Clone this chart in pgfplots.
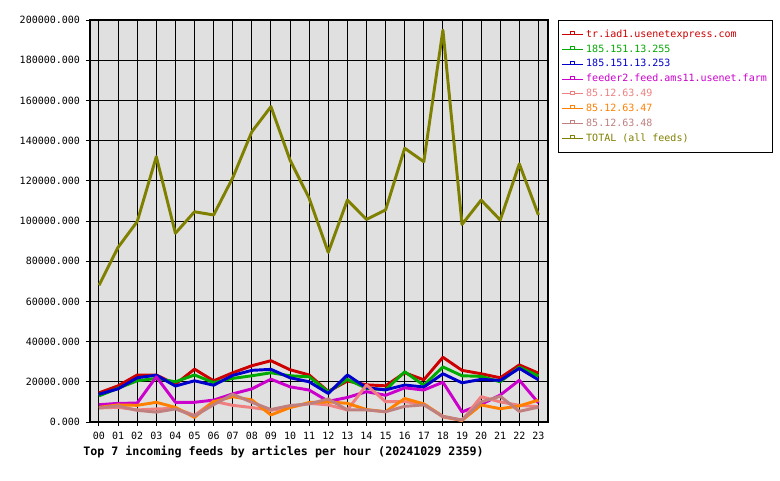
\documentclass[border=0pt]{standalone}
\usepackage{fontspec}
\setmainfont{DejaVu Sans Mono}
\usepackage{pgfplots}
\usepackage{pgfplotstable}
\pgfplotsset{compat=1.18}
\definecolor{cred}{RGB}{204,0,0}
\definecolor{cgreen}{RGB}{0,170,0}
\definecolor{cblue}{RGB}{0,0,204}
\definecolor{cmag}{RGB}{204,0,204}
\definecolor{csal}{RGB}{240,128,128}
\definecolor{cora}{RGB}{255,128,0}
\definecolor{cros}{RGB}{192,128,128}
\definecolor{coli}{RGB}{128,128,0}
\definecolor{bgc}{RGB}{224,224,224}
\pgfplotstableread{
h tot red green blue mag sal ora ros
0 68000 14500 13000 13800 8600 7000 7300 7000
1 86900 18000 16800 16500 9300 7300 8500 8000
2 99700 23400 20500 22000 9400 6000 8300 5800
3 132000 23400 21700 23300 22500 6500 9800 4900
4 93900 18800 20000 17900 9800 6800 7300 6500
5 104600 26300 23400 20500 9800 3300 2300 3000
6 103000 20500 19600 18300 10900 10300 10100 8600
7 121500 24500 21700 23200 14000 8300 12600 13800
8 144400 28000 23000 25700 16500 7200 11000 9800
9 156900 30500 24500 26200 21300 5800 3500 6200
10 130300 26000 23000 22000 17500 7300 7200 8200
11 111300 23400 22500 20000 15900 9300 9700 9000
12 84400 15200 15000 14200 10300 8500 10000 11500
13 110400 20400 21200 23400 12200 6000 9300 6000
14 100800 18500 16800 17000 15100 18400 6200 6000
15 105500 18000 16000 16000 13300 10100 5100 5100
16 136200 24500 25000 18400 17000 10100 11700 7800
17 129500 21000 18300 17400 15900 9000 9000 8500
18 195000 32200 27400 24000 19800 2500 2800 2800
19 98300 25700 23000 19500 5000 800 800 1000
20 110400 24000 22700 21200 8800 12600 8500 10000
21 100500 22000 20000 20700 13400 10000 6600 12800
22 128400 28400 27300 26700 20800 8300 8000 5300
23 103000 24300 22900 21000 9500 7600 10900 7400
}\datatable
\begin{document}
\begin{tikzpicture}[x=0.75pt,y=0.75pt]
\begin{axis}[
  scale only axis, width=343.5pt, height=301.5pt,
  at={(0,0)}, anchor=south west,
  xmin=-0.47, xmax=23.5, ymin=0, ymax=200000,
  axis background/.style={fill=bgc},
  grid=major, grid style={black, line width=0.75pt},
  axis line style={black, line width=0.9pt},
  xtick={0,...,23},
  xticklabels={00,01,02,03,04,05,06,07,08,09,10,11,12,13,14,15,16,17,18,19,20,21,22,23},
  ytick={0,20000,40000,60000,80000,100000,120000,140000,160000,180000,200000},
  yticklabels={0.000,20000.000,40000.000,60000.000,80000.000,100000.000,120000.000,140000.000,160000.000,180000.000,200000.000},
  scaled y ticks=false,
  tick align=outside, xtick pos=left, ytick pos=left,
  major tick length=3pt, tick style={black, line width=0.75pt},
  tick label style={font=\fontsize{7.5}{9}\selectfont},
  xticklabel style={yshift=-1pt},
  yticklabel style={xshift=-1pt},
  /pgf/number format/assume math mode=true,
  legend style={at={(1,1)}, anchor=north west, xshift=7.5pt,
    draw=black, line width=0.8pt, inner xsep=2pt, inner ysep=5pt,
    font=\fontsize{7.5}{9}\selectfont, row sep=0pt,
    legend cell align=left},
  legend image code/.code={
    \draw[#1, line width=0.75pt] (0pt,0pt) -- (16pt,0pt);
    \draw[#1, line width=0.6pt, fill=white] (6.8pt,0pt) rectangle (9.2pt,2.2pt);
  },
  every axis plot/.append style={line width=2.2pt, line join=round, no markers},
]
\addplot[cred] table[x=h, y=red] {\datatable};
\addplot[cgreen] table[x=h, y=green] {\datatable};
\addplot[cblue] table[x=h, y=blue] {\datatable};
\addplot[cmag] table[x=h, y=mag] {\datatable};
\addplot[csal] table[x=h, y=sal] {\datatable};
\addplot[cora] table[x=h, y=ora] {\datatable};
\addplot[cros] table[x=h, y=ros] {\datatable};
\addplot[coli] table[x=h, y=tot] {\datatable};
\legend{\textcolor{cred}{tr.iad1.usenetexpress.com},
  \textcolor{cgreen}{185.151.13.255},
  \textcolor{cblue}{185.151.13.253},
  \textcolor{cmag}{feeder2.feed.ams11.usenet.farm},
  \textcolor{csal}{85.12.63.49},
  \textcolor{cora}{85.12.63.47},
  \textcolor{cros}{85.12.63.48},
  \textcolor{coli}{TOTAL (all feeds)}}
\end{axis}
\node[anchor=west, inner sep=0pt, font=\bfseries\fontsize{8.75}{10}\selectfont] at (-7,-30) {Top 7 incoming feeds by articles per hour (20241029 2359)};
\pgfresetboundingbox
\path[use as bounding box] (-90,-58) rectangle (690,422);
\end{tikzpicture}
\end{document}
